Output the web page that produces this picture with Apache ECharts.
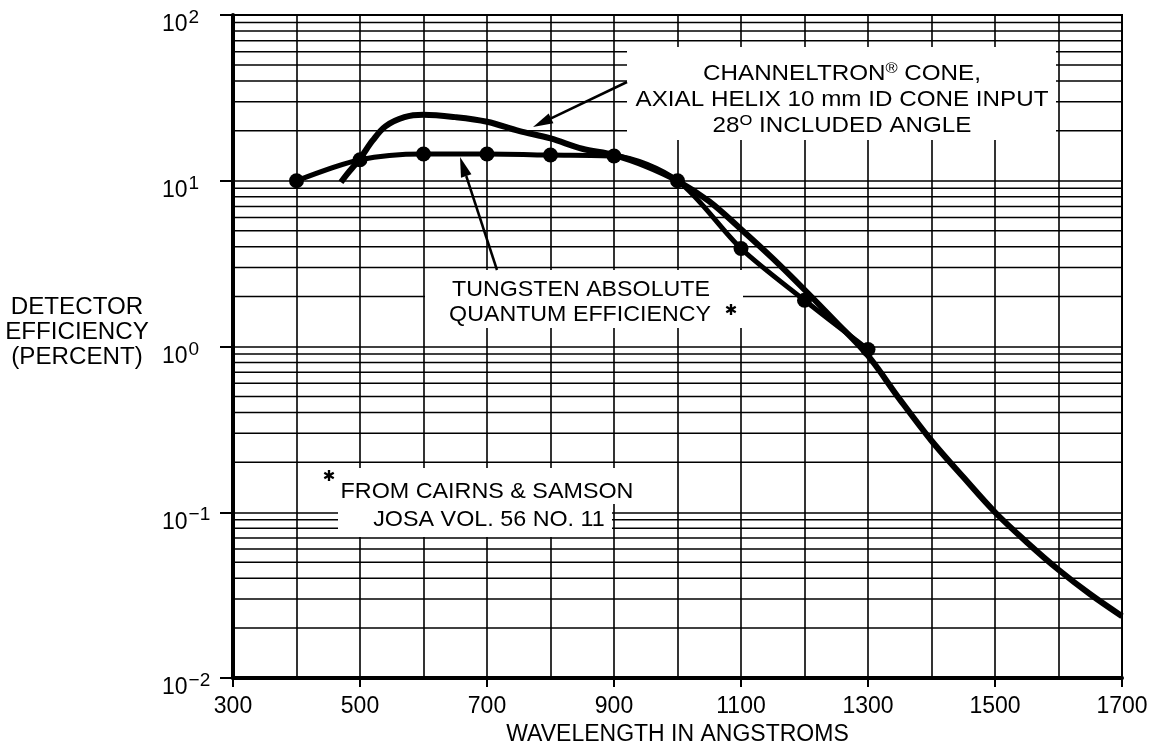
<!DOCTYPE html>
<html>
<head>
<meta charset="utf-8">
<script src="https://cdn.jsdelivr.net/npm/echarts@6/dist/echarts.min.js"></script>
<style>
  html, body { margin: 0; padding: 0; background: #fff; }
  #chart { width: 1154px; height: 750px; }
</style>
</head>
<body>
<div id="chart"></div>
<script>
// Datos (longitud de onda en Å, eficiencia en %)
const tungstenX = [400, 500, 600, 700, 800, 900, 1000, 1100, 1200, 1300];
const tungstenY = [10, 13.4, 14.5, 14.5, 14.3, 14.1, 10, 3.9, 1.9, 0.96];

const channelX = [470, 480, 500, 520, 540, 570, 600, 650, 700, 750, 800, 850, 900, 950, 1000,
  1050, 1100, 1150, 1200, 1250, 1300, 1350, 1400, 1450, 1500, 1550, 1600, 1650, 1700];
const channelY = [9.8, 11, 13.6, 17.5, 21.3, 24.2, 25, 24.2, 22.7, 20.0, 18.0, 15.6, 14.3, 12.3, 10.0,
  7.5, 5.1, 3.4, 2.2, 1.4, 0.88, 0.48, 0.27, 0.163, 0.1, 0.066, 0.045, 0.032, 0.0236];

const xTicks = [300, 500, 700, 900, 1100, 1300, 1500, 1700];
const yDecades = [0.01, 0.1, 1, 10];

const FONT = "'Liberation Sans', Arial, sans-serif";

// Líneas menores de la escala logarítmica (2..9 en cada década)
const minorY = [];
yDecades.forEach((d) => {
  for (let k = 2; k <= 9; k++) minorY.push(Number((k * d).toPrecision(3)));
});

function expLabel(value) {
  const e = Math.round(Math.log10(value));
  return "{b|10}{s|" + (e < 0 ? "\u2212" + -e : e) + "}";
}

// Flecha: de (x1,y1) a la punta (x2,y2)
function arrow(x1, y1, x2, y2) {
  const dx = x2 - x1, dy = y2 - y1, L = Math.hypot(dx, dy);
  const ux = dx / L, uy = dy / L;
  const hl = 20, hw = 5.5;
  const bx = x2 - ux * hl, by = y2 - uy * hl;
  return [
    { type: "line", z: 20, shape: { x1, y1, x2: bx, y2: by }, style: { stroke: "#000", lineWidth: 2.5 } },
    {
      type: "polygon", z: 20,
      shape: { points: [[x2, y2], [bx - uy * hw, by + ux * hw], [bx + uy * hw, by - ux * hw]] },
      style: { fill: "#000" },
    },
  ];
}

const richText = {
  n: { fontSize: 22, fontFamily: FONT, color: "#000", verticalAlign: "bottom", lineHeight: 22 },
  r: { fontSize: 15, fontFamily: FONT, color: "#000", verticalAlign: "bottom", padding: [0, 0, 9, 0] },
};

function label(text, x, y, sx) {
  return {
    type: "text", z: 6, x, y, scaleX: sx || 1,
    style: { text, rich: richText, x: 0, y: 0, align: "center", verticalAlign: "middle" },
  };
}

function star(x, y) {
  return {
    type: "text", z: 6,
    style: { text: "\u2731", x, y, align: "center", verticalAlign: "middle",
      fontSize: 15, fontFamily: "'DejaVu Sans'", fill: "#000" },
  };
}

function whiteBox(x, y, w, h) {
  return { type: "rect", z: 5, shape: { x, y, width: w, height: h }, style: { fill: "#fff" } };
}

const chart = echarts.init(document.getElementById("chart"));

chart.setOption({
  animation: false,
  backgroundColor: "#fff",
  grid: {
    left: 233, right: 32, top: 15, bottom: 72,
    show: true, borderColor: "#000", borderWidth: 2, backgroundColor: "transparent",
    outerBoundsMode: "none",
  },
  xAxis: {
    type: "value", min: 300, max: 1700, interval: 200,
    name: "WAVELENGTH IN ANGSTROMS", nameLocation: "middle", nameGap: 45,
    nameTextStyle: { fontSize: 23, color: "#000", fontFamily: FONT },
    axisLine: { show: true, onZero: false, lineStyle: { color: "#000", width: 4 } },
    axisTick: { show: true, length: 9, lineStyle: { color: "#000", width: 2 } },
    axisLabel: {
      margin: 17, fontSize: 23, color: "#000", fontFamily: FONT,
      formatter: (v) => (xTicks.indexOf(v) >= 0 ? String(v) : ""),
    },
    splitLine: { show: true, lineStyle: { color: "#000", width: 1.6 } },
    minorTick: { show: false, splitNumber: 2 },
    minorSplitLine: { show: true, lineStyle: { color: "#000", width: 1.6 } },
  },
  yAxis: {
    type: "log", logBase: 10, min: 0.01, max: 100,
    axisLine: { show: true, onZero: false, lineStyle: { color: "#000", width: 4 } },
    axisTick: { show: true, length: 13, lineStyle: { color: "#000", width: 2 } },
    axisLabel: {
      margin: 71, align: "left", padding: [20, 0, 0, 0],
      formatter: expLabel,
      rich: {
        b: { fontSize: 23, fontFamily: FONT, color: "#000", lineHeight: 23, verticalAlign: "bottom" },
        s: { fontSize: 19, fontFamily: FONT, color: "#000", lineHeight: 19, verticalAlign: "bottom", padding: [0, 0, 9, 1] },
      },
    },
    splitLine: { show: true, lineStyle: { color: "#000", width: 1.6 } },
  },
  series: [
    {
      name: "grid-minor",
      type: "custom",
      z: 1,
      silent: true,
      encode: { x: 0, y: 1 },
      data: minorY.map((v) => [300, v]),
      renderItem: function (params, api) {
        const a = api.coord([300, api.value(1)]);
        const b = api.coord([1700, api.value(1)]);
        return {
          type: "line",
          shape: { x1: a[0], y1: a[1], x2: b[0], y2: b[1] },
          style: { stroke: "#000", lineWidth: 1.5 },
        };
      },
    },
    {
      name: "Channeltron",
      type: "line",
      z: 10,
      smooth: 0.35,
      showSymbol: false,
      lineStyle: { color: "#000", width: 6 },
      data: channelX.map((x, i) => [x, channelY[i]]),
    },
    {
      name: "Tungsten",
      type: "line",
      z: 11,
      smooth: 0.3,
      symbol: "circle",
      symbolSize: 15,
      itemStyle: { color: "#000" },
      lineStyle: { color: "#000", width: 5 },
      data: tungstenX.map((x, i) => [x, tungstenY[i]]),
    },
  ],
  graphic: {
    elements: [
      // Recuadros blancos que tapan la cuadrícula detrás de los textos
      whiteBox(627, 47, 429, 93),
      whiteBox(425, 270, 318, 58),
      whiteBox(338, 468, 300, 36),
      whiteBox(338, 504, 274, 33),

      label("{n|CHANNELTRON}{r|\u00AE}{n| CONE,}", 842, 73, 1.1),
      label("{n|AXIAL HELIX 10 mm ID CONE INPUT}", 842, 100, 1.1),
      label("{n|28}{r|O}{n| INCLUDED ANGLE}", 842, 125, 1.1),

      label("{n|TUNGSTEN ABSOLUTE}", 581, 290, 1.055),
      label("{n|QUANTUM EFFICIENCY}", 580, 315, 1.055),

      label("{n|FROM CAIRNS & SAMSON}", 487, 492, 1.06),
      label("{n|JOSA VOL. 56 NO. 11}", 489, 520, 1.06),

      star(731, 311),
      star(329, 477),

      // Título del eje Y
      {
        type: "text", z: 6, x: 77, y: 333, scaleX: 1.05,
        style: {
          text: "DETECTOR\nEFFICIENCY\n(PERCENT)", x: 0, y: 0,
          align: "center", verticalAlign: "middle", lineHeight: 25,
          fontSize: 23, fontFamily: FONT, fill: "#000",
        },
      },

      ...arrow(627, 82, 533, 127),
      ...arrow(497, 270, 460, 157),
    ],
  },
});
</script>
</body>
</html>
